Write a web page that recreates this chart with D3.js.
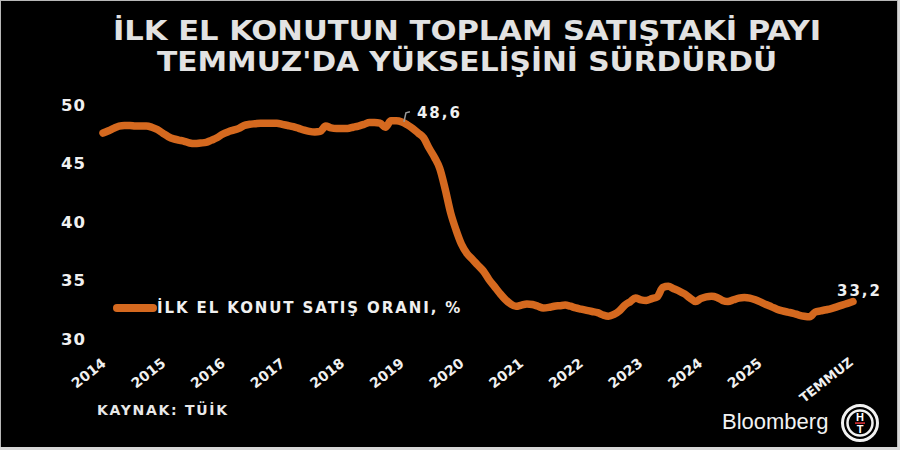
<!DOCTYPE html>
<html><head><meta charset="utf-8">
<script src="https://cdn.jsdelivr.net/npm/d3@7"></script>
<style>
html,body{margin:0;padding:0;background:#000;}
svg{display:block;}
</style></head>
<body>
<svg id="chart" width="900" height="450"></svg>
<script>
const titleLines = ["İLK EL KONUTUN TOPLAM SATIŞTAKİ PAYI", "TEMMUZ'DA YÜKSELİŞİNİ SÜRDÜRDÜ"];
const seriesName = "İLK EL KONUT SATIŞ ORANI, %";
const sourceText = "KAYNAK: TÜİK";
const startMonth = "2014-01";
// monthly share of first-hand sales in total house sales (%), Jan 2014 – Jul 2025
const values = [
 47.6,47.8,48.0,48.2,48.25,48.25,48.2,48.2,48.2,48.1,47.9,47.6,
 47.3,47.1,47.0,46.9,46.75,46.7,46.75,46.8,47.0,47.2,47.5,47.7,
 47.85,48.0,48.25,48.35,48.4,48.45,48.45,48.45,48.45,48.35,48.25,48.15,
 48.0,47.85,47.75,47.7,47.75,48.2,48.05,48.0,48.0,48.0,48.1,48.2,
 48.35,48.5,48.5,48.45,48.1,48.65,48.65,48.55,48.3,48.0,47.6,47.2,
 46.3,45.5,44.6,42.8,40.8,39.3,38.1,37.3,36.8,36.3,35.8,35.1,
 34.5,33.9,33.4,33.0,32.8,32.9,33.0,32.95,32.8,32.65,32.7,32.8,
 32.85,32.9,32.8,32.65,32.55,32.45,32.35,32.25,32.05,31.95,32.1,32.4,
 32.9,33.2,33.5,33.35,33.3,33.45,33.6,34.4,34.5,34.3,34.1,33.85,
 33.5,33.2,33.45,33.6,33.65,33.55,33.3,33.2,33.35,33.5,33.55,33.5,
 33.35,33.15,32.95,32.75,32.55,32.4,32.3,32.2,32.05,31.95,31.9,32.3,
 32.4,32.5,32.6,32.75,32.9,33.05,33.2
];
const yTicks = [30, 35, 40, 45, 50];
const xLabels = ["2014","2015","2016","2017","2018","2019","2020","2021","2022","2023","2024","2025"];
const lastLabel = "TEMMUZ";
const peakLabel = "48,6";
const endLabel = "33,2";

const parse = d3.timeParse("%Y-%m");
const t0 = parse(startMonth);
const data = values.map((v, i) => ({ date: d3.timeMonth.offset(t0, i), v }));

const svg = d3.select("#chart");
const W = 900, H = 450;
svg.append("rect").attr("x",0).attr("y",0).attr("width",W).attr("height",H).attr("fill","#000");

const x = d3.scaleTime().domain(d3.extent(data, d => d.date)).range([103, 853]);
const y = d3.scaleLinear().domain([30, 50]).range([339, 105]);
const xLab = d3.scaleLinear().domain([0, xLabels.length - 1]).range([107, 763]);

const font = "'DejaVu Sans', Verdana, sans-serif";

// title
svg.append("g").selectAll("text").data(titleLines).join("text")
  .attr("x", 467).attr("y", (d, i) => 40 + i * 31)
  .attr("text-anchor", "middle")
  .attr("font-family", "'DejaVu Sans Condensed', 'Liberation Sans Narrow', sans-serif")
  .attr("font-weight", "bold").attr("font-size", 27)
  .attr("fill", "#e2e2e2")
  .attr("textLength", (d, i) => i === 0 ? 708 : 620)
  .attr("lengthAdjust", "spacingAndGlyphs")
  .text(d => d);

// y axis
const yAxis = svg.append("g").attr("transform", "translate(88,0)")
  .call(d3.axisLeft(y).tickValues(yTicks).tickSize(0).tickPadding(2).tickFormat(d3.format("d")));
yAxis.select(".domain").remove();
yAxis.selectAll("text").attr("font-family", font).attr("font-weight", "bold")
  .attr("font-size", 16.5).attr("fill", "#f0f0f0").attr("letter-spacing", 1);

// x labels
const xg = svg.append("g");
xg.selectAll("text.yr").data(xLabels).join("text").attr("class","yr")
  .attr("transform", (d, i) => `translate(${xLab(i)},365) rotate(-38)`)
  .attr("text-anchor", "end")
  .attr("font-family", font).attr("font-weight", "bold").attr("font-size", 14)
  .attr("fill", "#f0f0f0")
  .text(d => d);
xg.append("text")
  .attr("transform", `translate(${x(data[data.length-1].date) + 1},364) rotate(-38)`)
  .attr("text-anchor", "end")
  .attr("font-family", font).attr("font-weight", "bold").attr("font-size", 13)
  .attr("fill", "#f0f0f0")
  .text(lastLabel);

// line
const lineColor = "#d5691f";
svg.append("path").datum(data)
  .attr("d", d3.line().x(d => x(d.date)).y(d => y(d.v)).curve(d3.curveMonotoneX))
  .attr("fill", "none").attr("stroke", lineColor).attr("stroke-width", 7.5)
  .attr("stroke-linejoin", "round").attr("stroke-linecap", "round");

// peak annotation
const peak = data.reduce((a, b) => (b.v > a.v ? b : a));
const px = x(peak.date), py = y(peak.v);
svg.append("path")
  .attr("d", `M${px + 13},${py + 1} L${px + 15},${py - 8} L${px + 19},${py - 9}`)
  .attr("fill", "none").attr("stroke", "#9a9a9a").attr("stroke-width", 1.5);
svg.append("text").attr("x", px + 26).attr("y", py - 3)
  .attr("font-family", font).attr("font-weight", "bold").attr("font-size", 15)
  .attr("letter-spacing", 2).attr("fill", "#f0f0f0").text(peakLabel);

// end label
const last = data[data.length - 1];
svg.append("text").attr("x", x(last.date) + 29).attr("y", y(last.v) - 6)
  .attr("text-anchor", "end")
  .attr("font-family", font).attr("font-weight", "bold").attr("font-size", 15)
  .attr("letter-spacing", 2).attr("fill", "#f0f0f0").text(endLabel);

// legend
svg.append("line").attr("x1", 117).attr("x2", 153).attr("y1", 308).attr("y2", 308)
  .attr("stroke", lineColor).attr("stroke-width", 8).attr("stroke-linecap", "round");
svg.append("text").attr("x", 157).attr("y", 313)
  .attr("font-family", font).attr("font-weight", "bold").attr("font-size", 15)
  .attr("letter-spacing", 1.9).attr("fill", "#f0f0f0").text(seriesName);

// source
svg.append("text").attr("x", 97).attr("y", 415)
  .attr("font-family", font).attr("font-weight", "bold").attr("font-size", 14)
  .attr("letter-spacing", 1.7).attr("fill", "#e8e8e8").text(sourceText);

// Bloomberg HT logo
svg.append("text").attr("x", 722).attr("y", 429)
  .attr("font-family", "'Liberation Sans', Arial, sans-serif").attr("font-size", 22)
  .attr("fill", "#f2f2f2").text("Bloomberg");
const lg = svg.append("g").attr("transform", "translate(860,423)");
lg.append("circle").attr("r", 17.5).attr("fill", "none").attr("stroke", "#f2f2f2").attr("stroke-width", 3);
lg.append("circle").attr("r", 12.5).attr("fill", "#000").attr("stroke", "#f2f2f2").attr("stroke-width", 2.5);
lg.append("text").attr("y", -2).attr("text-anchor", "middle")
  .attr("font-family", "'Liberation Sans', Arial, sans-serif").attr("font-weight", "bold")
  .attr("font-size", 11).attr("fill", "#fff").text("H");
lg.append("rect").attr("x", -5).attr("y", -0.8).attr("width", 10).attr("height", 1.8).attr("fill", "#c0282f");
lg.append("text").attr("y", 10).attr("text-anchor", "middle")
  .attr("font-family", "'Liberation Sans', Arial, sans-serif").attr("font-weight", "bold")
  .attr("font-size", 11).attr("fill", "#fff").text("T");

// frame
svg.append("rect").attr("x", 0.5).attr("y", 0.5).attr("width", W - 3).attr("height", H - 3)
  .attr("fill", "none").attr("stroke", "#b8b8b8").attr("stroke-width", 1);
svg.append("rect").attr("x", W - 2).attr("y", 0).attr("width", 2).attr("height", H).attr("fill", "#d8d8d8");
svg.append("rect").attr("x", 0).attr("y", H - 3).attr("width", W).attr("height", 3).attr("fill", "#d8d8d8");
</script>
</body></html>
